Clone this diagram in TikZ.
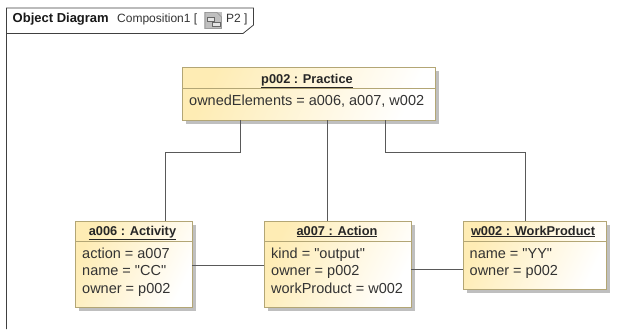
\documentclass[tikz,border=0pt]{standalone}
\usepackage{fontspec}
\setmainfont{Liberation Sans}
\newfontfamily\plainf{Liberation Sans}
\begin{document}
\begin{tikzpicture}[x=1pt,y=-1pt,
  framel/.style={draw=black!75,line width=0.8pt},
  conn/.style={draw=black!65,line width=1pt},
  nm/.style={font=\fontsize{12.8}{15}\selectfont\bfseries,text=black!85,inner sep=0pt,anchor=base},
  attr/.style={font=\plainf\fontsize{14.5}{17}\selectfont,text=black!80,inner sep=0pt,anchor=base west},
  hdr/.style={font=\fontsize{12}{14}\selectfont,text=black!80,inner sep=0pt,anchor=base west}]
\useasboundingbox (0,0) rectangle (623,329);
\fill[white] (0,0) rectangle (623,329);
\definecolor{boxgold}{HTML}{FEECB4}
\definecolor{boxline}{HTML}{B3A675}
\newcommand{\umlbox}[6]{%
  \fill[black!25] (#2+4,#3+4) rectangle (#4+4,#5+4);
  \path[left color=boxgold,right color=white,shading angle=65] (#2,#3) rectangle (#4,#5);
  \draw[boxline,line width=1pt] (#2,#3) rectangle (#4,#5);
  \draw[boxline,line width=0.8pt] (#2,#6) -- (#4,#6);
  \coordinate (#1) at (#2,#3);
}
% frame
\coordinate (f1) at (6.5,8);
\coordinate (f2) at (253.5,8);
\coordinate (f3) at (253.5,25);
\coordinate (f4) at (243,33.5);
\coordinate (f5) at (6.5,33.5);
\coordinate (f6) at (6.5,329);
\draw[framel] (f6) -- (f5) -- (f4) -- (f3) -- (f2) -- (f1) -- (f5);
\node[font=\fontsize{13}{15}\selectfont\bfseries,text=black!90,inner sep=0pt,anchor=base west] (ft) at (12.5,23) {Object Diagram};
\node[hdr] (fn) at (117,23) {Composition1 [};
\fill[black!25] (204,12) rectangle (222,29);
\draw[black!45,line width=0.5pt] (205,12.5) -- (217,12.5) -- (221.5,17) -- (221.5,28.5) -- (205,28.5) -- cycle;
\draw[black!60,fill=black!10,line width=0.5pt] (207,17) rectangle (214,21);
\draw[black!60,fill=black!10,line width=0.5pt] (212,22) rectangle (220,26);
\node[hdr] (fp) at (226,23) {P2 ]};
% boxes
\umlbox{pa}{182}{67}{435}{120}{88}
\umlbox{aa}{75}{221}{192}{307}{241}
\umlbox{ab}{264}{221}{411}{307}{241}
\umlbox{wa}{463}{221}{606}{289}{241}
% anchors of connectors
\coordinate (p1) at (240,120); \coordinate (p2) at (327,120); \coordinate (p3) at (385,120);
\coordinate (a1t) at (165,221); \coordinate (a2t) at (327,221); \coordinate (w1t) at (525,221);
\coordinate (a1r) at (192,265); \coordinate (a2l) at (264,265);
\coordinate (a2r) at (411,269); \coordinate (w1l) at (463,269);
\draw[conn] (p1) -- (240,152) -- (165,152) -- (a1t);
\draw[conn] (p2) -- (a2t);
\draw[conn] (p3) -- (385,152) -- (525,152) -- (w1t);
\draw[conn] (a1r) -- (a2l);
\draw[conn] (a2r) -- (w1l);
% texts
\node[nm] (t1) at (307,83) {\underline{p002 : Practice}};
\node[attr] (t2) at (189,105) {ownedElements = a006, a007, w002};
\node[nm] (t3) at (132.5,235) {\underline{a006 : Activity}};
\node[attr] (t4) at (82,258) {action = a007};
\node[attr] (t5) at (82,275.5) {name = "CC"};
\node[attr] (t6) at (82,293) {owner = p002};
\node[nm] (t7) at (337,235) {\underline{a007 : Action}};
\node[attr] (t8) at (271,258) {kind = "output"};
\node[attr] (t9) at (271,275.5) {owner = p002};
\node[attr] (t10) at (271,293) {workProduct = w002};
\node[nm] (t11) at (533,235) {\underline{w002 : WorkProduct}};
\node[attr] (t12) at (469.5,258) {name = "YY"};
\node[attr] (t13) at (469.5,275.5) {owner = p002};
\end{tikzpicture}
\end{document}
